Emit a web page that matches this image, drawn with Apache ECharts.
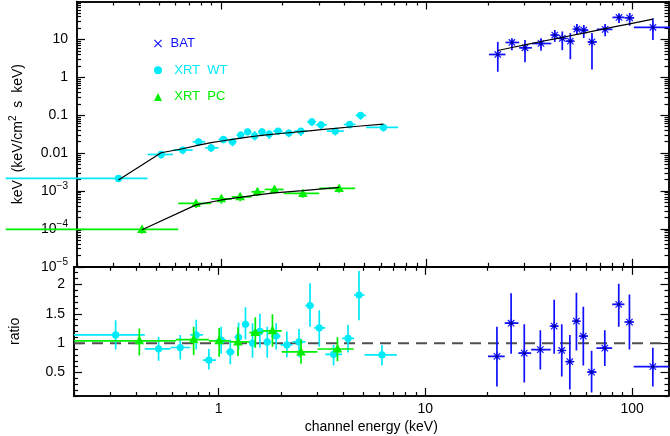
<!DOCTYPE html>
<html><head><meta charset="utf-8">
<script src="https://cdn.jsdelivr.net/npm/echarts@6/dist/echarts.min.js"></script>
<style>html,body{margin:0;padding:0;background:#fff}#c{width:670px;height:436px}</style>
</head><body><div id="c"></div>
<script>
// ---------- data ----------
// BAT
const batE    = [22.2, 26.0, 30.1, 36.0, 42.0, 45.7, 50.0, 53.8, 58.1, 63.7, 73.8, 86.2, 97.1, 126];
const batElo  = [20.1, 24.2, 28.2, 32.5, 40.4, 43.9, 47.8, 52.0, 55.6, 61.0, 67.2, 80.1, 91.8, 101.8];
const batEhi  = [24.2, 28.2, 32.5, 40.4, 43.9, 47.8, 52.0, 55.6, 61.0, 67.2, 80.1, 91.8, 101.8, 160];
const batY    = [4.0, 8.3, 6.0, 7.8, 13.0, 10.6, 9.0, 18.7, 17.6, 8.6, 18.4, 38, 37.2, 20.8];
const batYlo  = [1.4, 5.2, 2.5, 5.0, 8.6, 5.2, 3.0, 13.0, 10.9, 1.6, 12.1, 27, 23, 9.7];
const batYhi  = [8.6, 10.4, 9.7, 10.8, 17.7, 16.2, 14.7, 25.6, 24, 14.7, 25.6, 47, 50, 36];
const batModel= [5.1, 6.1, 7.2, 8.8, 10.3, 11.3, 12.5, 13.5, 14.7, 16.3, 19.2, 22.7, 25.8, 34.3];
const batR    = [0.775, 1.34, 0.83, 0.89, 1.29, 0.875, 0.685, 1.375, 1.12, 0.505, 0.915, 1.66, 1.36, 0.6];
const batRlo  = [0.26, 0.82, 0.33, 0.55, 0.82, 0.43, 0.21, 0.875, 0.62, 0.16, 0.61, 1.28, 0.89, 0.26];
const batRhi  = [1.28, 1.85, 1.32, 1.22, 1.74, 1.32, 1.14, 1.86, 1.62, 0.87, 1.22, 2.01, 1.83, 0.92];
// XRT WT
const wtE    = [0.318, 0.513, 0.653, 0.780, 0.898, 1.03, 1.14, 1.25, 1.35, 1.46, 1.585, 1.72, 1.90, 2.14, 2.45, 2.77, 3.07, 3.60, 4.23, 4.78, 6.17];
const wtElo  = [0.09, 0.44, 0.585, 0.73, 0.84, 0.974, 1.088, 1.194, 1.299, 1.41, 1.523, 1.652, 1.798, 1.993, 2.276, 2.63, 2.90, 3.28, 3.96, 4.52, 5.09];
const wtEhi  = [0.44, 0.585, 0.73, 0.84, 0.974, 1.088, 1.194, 1.299, 1.41, 1.523, 1.652, 1.798, 1.993, 2.276, 2.63, 2.90, 3.28, 3.96, 4.52, 5.09, 7.28];
const wtY    = [0.00215, 0.0092, 0.0120, 0.0199, 0.0138, 0.0230, 0.0199, 0.0300, 0.0365, 0.0286, 0.0365, 0.0317, 0.0380, 0.0337, 0.0380, 0.0670, 0.0558, 0.0380, 0.0570, 0.0990, 0.0476];
const wtYlo  = [0.00170, 0.0071, 0.0093, 0.0155, 0.0107, 0.0180, 0.0150, 0.0243, 0.0294, 0.0215, 0.0280, 0.0233, 0.0302, 0.0264, 0.0283, 0.0523, 0.0416, 0.0291, 0.0443, 0.0756, 0.0369];
const wtYhi  = [0.00262, 0.0113, 0.0148, 0.0244, 0.0175, 0.0280, 0.0248, 0.0368, 0.0445, 0.0383, 0.0456, 0.0398, 0.0455, 0.0417, 0.0462, 0.0825, 0.0691, 0.0456, 0.0691, 0.121, 0.0578];
const wtModel= [0.00195, 0.0102, 0.0130, 0.0162, 0.0188, 0.0212, 0.0230, 0.0248, 0.0263, 0.0278, 0.0292, 0.0306, 0.0324, 0.0344, 0.0368, 0.0392, 0.0414, 0.0448, 0.0488, 0.0518, 0.058];
const wtR    = [1.14, 0.904, 0.926, 1.14, 0.71, 1.05, 0.85, 1.10, 1.32, 1.0, 1.2, 1.02, 1.12, 0.97, 1.02, 1.64, 1.26, 0.81, 1.08, 1.82, 0.80];
const wtRlo  = [0.89, 0.70, 0.72, 0.89, 0.55, 0.82, 0.64, 0.89, 1.06, 0.75, 0.92, 0.75, 0.89, 0.76, 0.76, 1.28, 0.94, 0.62, 0.84, 1.39, 0.62];
const wtRhi  = [1.39, 1.11, 1.14, 1.40, 0.90, 1.28, 1.06, 1.35, 1.61, 1.34, 1.50, 1.28, 1.34, 1.20, 1.24, 2.02, 1.56, 0.97, 1.31, 2.23, 0.97];
// XRT PC
const pcE    = [0.414, 0.758, 1.007, 1.242, 1.506, 1.823, 2.505, 3.76];
const pcElo  = [0.09, 0.621, 0.898, 1.13, 1.41, 1.633, 2.02, 3.01];
const pcEhi  = [0.621, 0.898, 1.13, 1.41, 1.633, 2.02, 3.01, 4.50];
const pcY    = [9.7e-5, 4.7e-4, 6.2e-4, 7.0e-4, 9.5e-4, 1.1e-3, 8.65e-4, 1.17e-3];
const pcYlo  = [7.4e-5, 3.55e-4, 4.6e-4, 5.35e-4, 7.4e-4, 8.5e-4, 6.6e-4, 9.0e-4];
const pcYhi  = [1.17e-4, 5.7e-4, 7.5e-4, 8.7e-4, 1.16e-3, 1.35e-3, 1.08e-3, 1.43e-3];
const pcModel= [9.5e-5, 4.3e-4, 5.8e-4, 6.8e-4, 7.9e-4, 8.9e-4, 1.02e-3, 1.24e-3];
const pcR    = [1.04, 1.06, 1.04, 1.02, 1.18, 1.21, 0.85, 0.90];
const pcRlo  = [0.79, 0.80, 0.77, 0.78, 0.92, 0.94, 0.65, 0.69];
const pcRhi  = [1.25, 1.28, 1.26, 1.27, 1.44, 1.49, 1.06, 1.10];

// axes / ticks
const X_MIN = 0.2, X_MAX = 150, Y_MIN = 1e-5, Y_MAX = 100, R_MIN = 0.1, R_MAX = 2.3;
const xLabelVals = [1, 10, 100];
const xTickLabels = ['1', '10', '100'];
const xMinorTicks = [0.2,0.3,0.4,0.5,0.6,0.7,0.8,0.9, 2,3,4,5,6,7,8,9, 20,30,40,50,60,70,80,90];
const yLabelVals = [1e-5, 1e-4, 1e-3, 0.01, 0.1, 1, 10];
const yTickLabels = ['10^\u22125', '10^\u22124', '10^\u22123', '0.01', '0.1', '1', '10'];
const yDecades = [1e-5, 1e-4, 1e-3, 0.01, 0.1, 1, 10];
const yMinorMult = [2,3,4,5,6,7,8,9];
const rLabelVals = [0.5, 1, 1.5, 2];
const rTickLabels = ['0.5', '1', '1.5', '2'];
const rMinorTicks = [0.1,0.2,0.3,0.4,0.6,0.7,0.8,0.9,1.1,1.2,1.3,1.4,1.6,1.7,1.8,1.9,2.1,2.2];
const refLine = [[X_MIN, 1], [X_MAX, 1]];

// ---------- chart ----------
const FONT = '"Liberation Sans", Arial, Helvetica, sans-serif';
const C_BAT = '#1010ff', C_WT = '#00eaf8', C_PC = '#00ee00';
const yMinorTicks = yDecades.flatMap(d => yMinorMult.map(m => m * d));

function labelFor(v, vals, txts) {
  for (let i = 0; i < vals.length; i++) if (Math.abs(v / vals[i] - 1) < 1e-3) return txts[i];
  return '';
}
function sup(t) {
  if (!t) return '';
  const p = t.split('^');
  return p.length > 1 ? '{b|' + p[0] + '}{s|' + p[1] + '}' : '{b|' + t + '}';
}
const RICH = {
  b: {fontSize: 14, fontFamily: FONT, color: '#000', lineHeight: 20},
  s: {fontSize: 10, fontFamily: FONT, color: '#000', lineHeight: 10, verticalAlign: 'top'}
};
const LINE = {show: true, onZero: false, lineStyle: {color: '#000', width: 1.5}};

function ax(type, gridIndex, position, min, max, ticks, len) {
  return {
    type, gridIndex, position, min, max, logBase: 10,
    axisLine: LINE,
    axisTick: {show: true, inside: true, length: len, customValues: ticks, lineStyle: {color: '#000', width: 1.2}},
    axisLabel: {show: false},
    splitLine: {show: false}, minorTick: {show: false}, minorSplitLine: {show: false}
  };
}

const xAxes = [
  ax('log', 0, 'bottom', X_MIN, X_MAX, xLabelVals, 8),
  ax('log', 0, 'bottom', X_MIN, X_MAX, xMinorTicks, 4),
  ax('log', 0, 'top', X_MIN, X_MAX, xLabelVals, 8),
  ax('log', 0, 'top', X_MIN, X_MAX, xMinorTicks, 4),
  ax('log', 1, 'bottom', X_MIN, X_MAX, xLabelVals, 8),
  ax('log', 1, 'bottom', X_MIN, X_MAX, xMinorTicks, 4),
  ax('log', 1, 'top', X_MIN, X_MAX, xLabelVals, 8),
  ax('log', 1, 'top', X_MIN, X_MAX, xMinorTicks, 4)
];
Object.assign(xAxes[4], {
  axisLabel: {show: true, customValues: xLabelVals, margin: 6, fontSize: 14, fontFamily: FONT, color: '#000',
    formatter: v => labelFor(v, xLabelVals, xTickLabels)},
  name: 'channel energy (keV)', nameLocation: 'middle', nameGap: 24,
  nameTextStyle: {fontSize: 14, fontFamily: FONT, color: '#000'}
});

const yAxes = [
  ax('log', 0, 'left', Y_MIN, Y_MAX, yLabelVals, 8),
  ax('log', 0, 'left', Y_MIN, Y_MAX, yMinorTicks, 4),
  ax('log', 0, 'right', Y_MIN, Y_MAX, yLabelVals, 8),
  ax('log', 0, 'right', Y_MIN, Y_MAX, yMinorTicks, 4),
  ax('value', 1, 'left', R_MIN, R_MAX, rLabelVals, 8),
  ax('value', 1, 'left', R_MIN, R_MAX, rMinorTicks, 4),
  ax('value', 1, 'right', R_MIN, R_MAX, rLabelVals, 8),
  ax('value', 1, 'right', R_MIN, R_MAX, rMinorTicks, 4)
];
Object.assign(yAxes[0], {
  axisLabel: {show: true, customValues: yLabelVals, margin: 9, fontSize: 14, fontFamily: FONT, color: '#000',
    formatter: v => sup(labelFor(v, yLabelVals, yTickLabels)), rich: RICH},
  name: 'keV  (keV/cm{s|2}  s  keV)', nameLocation: 'middle', nameGap: 49,
  nameTextStyle: {fontSize: 14, fontFamily: FONT, color: '#000', lineHeight: 20,
    rich: {s: {fontSize: 10, fontFamily: FONT, color: '#000', lineHeight: 10, verticalAlign: 'top'}}}
});
Object.assign(yAxes[4], {
  axisLabel: {show: true, customValues: rLabelVals, margin: 9, fontSize: 14, fontFamily: FONT, color: '#000',
    formatter: v => labelFor(v, rLabelVals, rTickLabels)},
  name: 'ratio', nameLocation: 'middle', nameGap: 52,
  nameTextStyle: {fontSize: 14, fontFamily: FONT, color: '#000'}
});

function marker(kind, x, y, color) {
  if (kind === 'circle') return {type: 'circle', shape: {cx: x, cy: y, r: 3.6}, style: {fill: color}};
  if (kind === 'tri') return {type: 'polygon', shape: {points: [[x, y - 5], [x + 4.8, y + 3.5], [x - 4.8, y + 3.5]]}, style: {fill: color}};
  const r = 4.5, d = 3.2, st = {stroke: color, lineWidth: 1.2};
  return {type: 'group', children: [
    {type: 'line', shape: {x1: x - r, y1: y, x2: x + r, y2: y}, style: st},
    {type: 'line', shape: {x1: x, y1: y - r, x2: x, y2: y + r}, style: st},
    {type: 'line', shape: {x1: x - d, y1: y - d, x2: x + d, y2: y + d}, style: st},
    {type: 'line', shape: {x1: x - d, y1: y + d, x2: x + d, y2: y - d}, style: st},
    {type: 'circle', shape: {cx: x, cy: y, r: 1.6}, style: {fill: '#0000a0'}}
  ]};
}

function errSeries(name, idx, rows, color, kind, clip) {
  return {
    type: 'custom', name, xAxisIndex: idx, yAxisIndex: idx, clip, z: 3,
    data: rows, encode: {x: [0, 1, 2], y: [3, 4, 5]},
    renderItem: (params, api) => {
      const x = api.value(0), y = api.value(3);
      const p = api.coord([x, y]);
      const pl = api.coord([api.value(1), y]), ph = api.coord([api.value(2), y]);
      const vl = api.coord([x, api.value(4)]), vh = api.coord([x, api.value(5)]);
      const st = {stroke: color, lineWidth: 1.7};
      return {type: 'group', children: [
        {type: 'line', shape: {x1: pl[0], y1: p[1], x2: ph[0], y2: p[1]}, style: st},
        {type: 'line', shape: {x1: p[0], y1: vl[1], x2: p[0], y2: vh[1]}, style: st},
        marker(kind, p[0], p[1], color)
      ]};
    }
  };
}
function rows(E, lo, hi, v, vlo, vhi) { return E.map((e, i) => [e, lo[i], hi[i], v[i], vlo[i], vhi[i]]); }
function modelSeries(E, m) {
  return {type: 'line', xAxisIndex: 0, yAxisIndex: 0, z: 5, symbol: 'none', silent: true,
    data: E.map((e, i) => [e, m[i]]), lineStyle: {color: '#000', width: 1.2}};
}

const option = {
  animation: false,
  backgroundColor: '#fff',
  grid: [
    {left: 70.5, right: 1.5, top: 1.5, height: 265.3},
    {left: 70.5, right: 1.5, top: 266.8, height: 129.2}
  ],
  xAxis: xAxes,
  yAxis: yAxes,
  legend: {
    orient: 'vertical', left: 149, top: 32, itemWidth: 8, itemHeight: 8, itemGap: 13.7,
    selectedMode: false,
    textStyle: {fontSize: 13, fontFamily: FONT},
    formatter: n => n === 'BAT' ? ' ' + n : '  ' + n.replace(' ', '  '),
    data: [
      {name: 'BAT', icon: 'path://M0,1L1,0L5,4L9,0L10,1L6,5L10,9L9,10L5,6L1,10L0,9L4,5Z', itemStyle: {color: C_BAT}, textStyle: {color: C_BAT}},
      {name: 'XRT WT', icon: 'circle', itemStyle: {color: C_WT}, textStyle: {color: C_WT}},
      {name: 'XRT PC', icon: 'triangle', itemStyle: {color: C_PC}, textStyle: {color: C_PC}}
    ]
  },
  series: [
    errSeries('XRT WT', 0, rows(wtE, wtElo, wtEhi, wtY, wtYlo, wtYhi), C_WT, 'circle', false),
    errSeries('XRT PC', 0, rows(pcE, pcElo, pcEhi, pcY, pcYlo, pcYhi), C_PC, 'tri', false),
    errSeries('BAT', 0, rows(batE, batElo, batEhi, batY, batYlo, batYhi), C_BAT, 'star', false),
    modelSeries(wtE, wtModel),
    modelSeries(pcE, pcModel),
    modelSeries(batE, batModel),
    {type: 'line', xAxisIndex: 4, yAxisIndex: 4, z: 2, symbol: 'none', silent: true, data: refLine,
      lineStyle: {color: '#505050', width: 2, type: [11, 7]}},
    errSeries('XRT WT', 4, rows(wtE, wtElo, wtEhi, wtR, wtRlo, wtRhi), C_WT, 'circle', true),
    errSeries('XRT PC', 4, rows(pcE, pcElo, pcEhi, pcR, pcRlo, pcRhi), C_PC, 'tri', true),
    errSeries('BAT', 4, rows(batE, batElo, batEhi, batR, batRlo, batRhi), C_BAT, 'star', true)
  ]
};
const chart = echarts.init(document.getElementById('c'), null, {renderer: 'canvas'});
chart.setOption(option);
</script></body></html>
